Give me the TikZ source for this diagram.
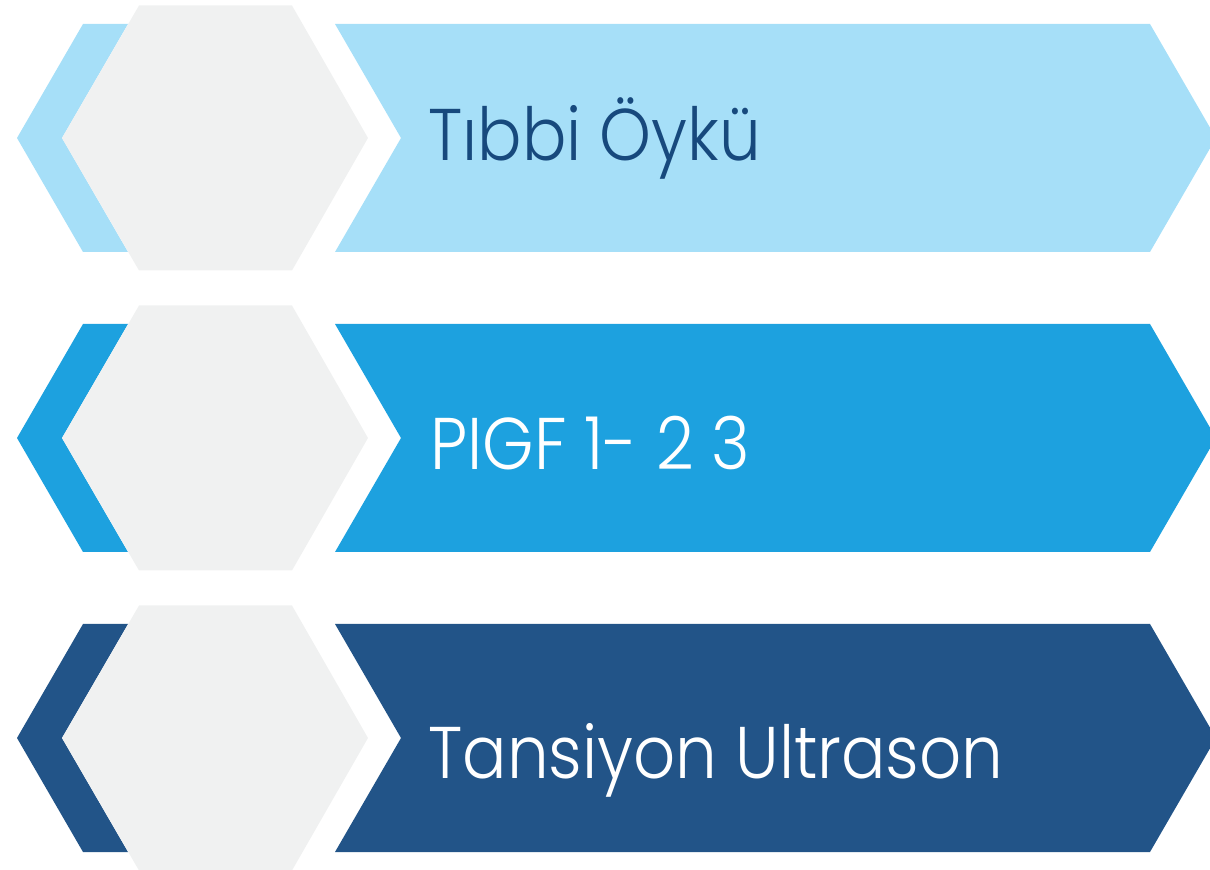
\documentclass[tikz,border=0pt]{standalone}
\usepackage{fontspec}
\setmainfont{Poppins Light}[FakeStretch=0.9]
\usepackage{tikz}

\definecolor{paleblue}{HTML}{A6DFF8}
\definecolor{midblue}{HTML}{1DA1DF}
\definecolor{deepblue}{HTML}{225488}
\definecolor{inkblue}{HTML}{17497D}
\definecolor{hexgray}{HTML}{F0F1F1}

\begin{document}
\begin{tikzpicture}[
        x=0.5pt, y=-0.5pt,
        hexagon/.style={fill=hexgray},
        label text/.style={anchor=base west, inner sep=0pt, font=\fontsize{36.6}{40}\selectfont}
    ]

        % Picture frame
        \useasboundingbox (0,0) rectangle (1210,870);
        \clip (0,0) rectangle (1210,870);

        % Row 1: pale band
        \fill[paleblue] (83,24) -- (128,24) -- (62,138) -- (128,252) -- (83,252) -- (17,138) -- cycle;
        \fill[paleblue] (335,24) -- (1150,24) -- (1216,138) -- (1150,252) -- (335,252) -- (401,138) -- cycle;
        \fill[hexagon] (139,5.5) -- (292,5.5) -- (368,138) -- (292,270.5) -- (139,270.5) -- (62,138) -- cycle;
        \node[label text, text=inkblue] (medical) at (428,161) {Tıbbi Öykü};

        % Row 2: middle band
        \begin{scope}[shift={(0,300)}]
            \fill[midblue] (83,24) -- (128,24) -- (62,138) -- (128,252) -- (83,252) -- (17,138) -- cycle;
            \fill[midblue] (335,24) -- (1150,24) -- (1216,138) -- (1150,252) -- (335,252) -- (401,138) -- cycle;
            \fill[hexagon] (139,5.5) -- (292,5.5) -- (368,138) -- (292,270.5) -- (139,270.5) -- (62,138) -- cycle;
        \end{scope}
        \node[label text, text=white] (plgf) at (430,470) {PIGF 1- 2 3};

        % Row 3: deep band
        \begin{scope}[shift={(0,600)}]
            \fill[deepblue] (83,24) -- (128,24) -- (62,138) -- (128,252) -- (83,252) -- (17,138) -- cycle;
            \fill[deepblue] (335,24) -- (1150,24) -- (1216,138) -- (1150,252) -- (335,252) -- (401,138) -- cycle;
            \fill[hexagon] (139,5.5) -- (292,5.5) -- (368,138) -- (292,270.5) -- (139,270.5) -- (62,138) -- cycle;
        \end{scope}
        \node[label text, text=white] (pressure) at (428,778) {Tansiyon Ultrason};

    \end{tikzpicture}
\end{document}
